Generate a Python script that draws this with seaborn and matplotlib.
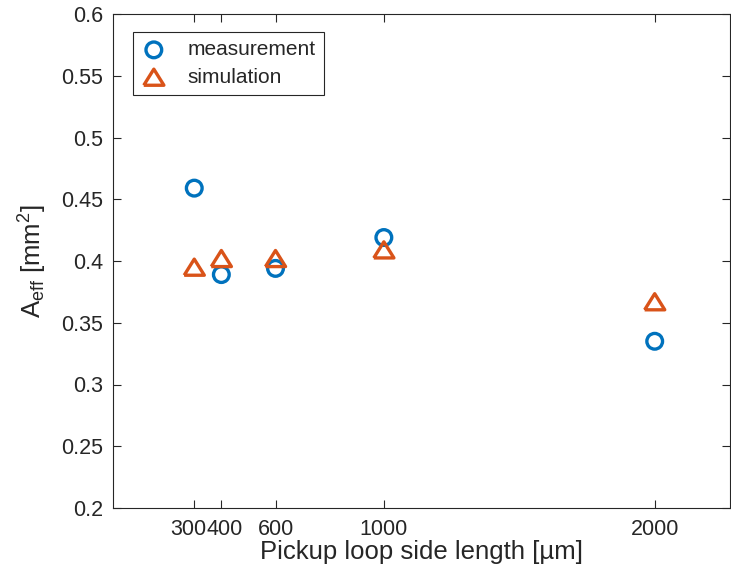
import matplotlib
matplotlib.use("Agg")
import matplotlib.pyplot as plt
import matplotlib.transforms as mtransforms
import seaborn as sns
import pandas as pd

loop_length = [300, 400, 600, 1000, 2000]
measurement = [0.459, 0.389, 0.394, 0.419, 0.335]
simulation = [0.395, 0.402, 0.402, 0.409, 0.367]
x_ticks = [300, 400, 600, 1000, 2000]
y_ticks = [0.2, 0.25, 0.3, 0.35, 0.4, 0.45, 0.5, 0.55, 0.6]
y_tick_labels = ["0.2", "0.25", "0.3", "0.35", "0.4", "0.45", "0.5", "0.55", "0.6"]

sns.set_theme(style="white")
plt.rcParams["font.family"] = ["Liberation Sans", "DejaVu Sans"]
plt.rcParams["mathtext.fontset"] = "custom"
plt.rcParams["mathtext.rm"] = "Liberation Sans"
plt.rcParams["mathtext.it"] = "Liberation Sans"

blue = "#0072BD"
orange = "#D95319"
axc = "#262626"

tri = [(-1.0, -0.8), (1.0, -0.8), (0.0, 0.8), (-1.0, -0.8)]

fig = plt.figure(figsize=(7.31, 5.65), dpi=100)
ax = fig.add_axes([113 / 731, 1 - 508 / 565, (730 - 113) / 731, (508 - 14) / 565])

df_m = pd.DataFrame({"x": loop_length, "y": measurement})
df_s = pd.DataFrame({"x": loop_length, "y": simulation})

sns.scatterplot(data=df_m, x="x", y="y", ax=ax, marker="o", s=11.3 ** 2,
                facecolors="none", edgecolor=blue, linewidth=2.4,
                label="measurement", zorder=3)
sns.scatterplot(data=df_s, x="x", y="y", ax=ax, marker=tri, s=14.5 ** 2,
                facecolors="none", edgecolor=orange, linewidth=2.4,
                label="simulation", zorder=4)

ax.set_xlim(0, 2278)
ax.set_ylim(0.2, 0.6)
ax.set_xticks(x_ticks)
ax.set_xticklabels([str(v) for v in x_ticks])
ax.set_yticks(y_ticks)
ax.set_yticklabels(y_tick_labels)

ax.tick_params(direction="in", length=6, width=0.8, colors=axc, labelsize=15.5,
               top=True, right=True, bottom=True, left=True)
ax.tick_params(axis="x", pad=8)
ax.tick_params(axis="y", pad=7)
for sp in ax.spines.values():
    sp.set_visible(True)
    sp.set_color(axc)
    sp.set_linewidth(0.8)

# nudge the two crowded tick labels apart so they touch but do not overlap
xlabels = ax.get_xticklabels()
shifts = {0: -5.5, 1: 3.5}
for i, dx in shifts.items():
    off = mtransforms.ScaledTranslation(dx / 100, 0, fig.dpi_scale_trans)
    xlabels[i].set_transform(xlabels[i].get_transform() + off)

ax.set_xlabel("Pickup loop side length [µm]", fontsize=18.5, color=axc, labelpad=0)
ax.set_ylabel(r"A$_{\mathrm{eff}}$ [mm$^2$]", fontsize=18.5, color=axc, labelpad=9)

leg = ax.legend(loc="upper left", bbox_to_anchor=(20 / 617, 1 - 18 / 494),
                frameon=True, fancybox=False, edgecolor=axc, framealpha=1,
                fontsize=15, handletextpad=1.0, borderpad=0.4,
                labelspacing=0.4, handlelength=1.2, borderaxespad=0)
leg.get_frame().set_linewidth(0.8)

fig.savefig("out.png", dpi=100)
